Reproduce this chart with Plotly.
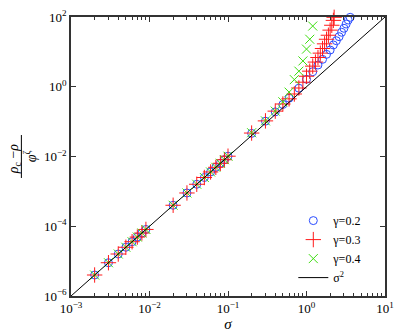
import plotly.graph_objects as go

# sigma values and scaled distance (rho_c - rho)/phi^zeta
sigma_g02 = [0.002, 0.003, 0.004, 0.005, 0.006, 0.007, 0.008, 0.009,
             0.02, 0.03, 0.04, 0.05, 0.06, 0.07, 0.08, 0.09, 0.1,
             0.2, 0.3, 0.4, 0.5, 0.6, 0.8, 1.0, 1.2, 1.4, 1.6, 1.8, 2.0,
             2.2, 2.4, 2.6, 2.8, 3.0, 3.2, 3.4, 3.6]
val_g02 = [4.0e-6, 9.0e-6, 1.6e-5, 2.5e-5, 3.6e-5, 4.9e-5, 6.4e-5, 8.1e-5,
           4.0e-4, 9.0e-4, 1.6e-3, 2.5e-3, 3.6e-3, 4.9e-3, 6.4e-3, 8.1e-3, 0.0102,
           0.046, 0.103, 0.19, 0.31, 0.47, 0.91, 1.64, 2.7, 4.2, 6.1, 8.5, 11.3,
           15.8, 20.9, 27.3, 36.5, 47.5, 63.0, 82.0, 98.0]

sigma_g03 = [0.002, 0.003, 0.004, 0.005, 0.006, 0.007, 0.008, 0.009,
             0.02, 0.03, 0.04, 0.05, 0.06, 0.07, 0.08, 0.09, 0.1,
             0.2, 0.3, 0.4, 0.5, 0.6, 0.7, 0.8, 0.9, 1.0, 1.1, 1.2, 1.3,
             1.4, 1.5, 1.6, 1.7, 1.8, 1.9, 2.0, 2.1, 2.2, 2.25]
val_g03 = [4.0e-6, 9.0e-6, 1.6e-5, 2.5e-5, 3.6e-5, 4.9e-5, 6.4e-5, 8.1e-5,
           4.0e-4, 9.0e-4, 1.6e-3, 2.5e-3, 3.6e-3, 4.9e-3, 6.4e-3, 8.1e-3, 0.0102,
           0.047, 0.105, 0.20, 0.32, 0.45, 0.62, 0.92, 1.35, 2.0, 2.8, 3.9, 5.1,
           6.9, 9.2, 12.5, 17.0, 23.0, 30.0, 42.0, 58.0, 80.0, 98.0]

sigma_g04 = [0.002, 0.003, 0.004, 0.005, 0.006, 0.007, 0.008, 0.009,
             0.02, 0.03, 0.04, 0.05, 0.06, 0.07, 0.08, 0.09, 0.1,
             0.2, 0.3, 0.4, 0.5, 0.6, 0.7, 0.8, 0.9, 1.0, 1.1, 1.2]
val_g04 = [4.0e-6, 9.0e-6, 1.6e-5, 2.5e-5, 3.6e-5, 4.9e-5, 6.4e-5, 8.1e-5,
           4.0e-4, 9.0e-4, 1.6e-3, 2.5e-3, 3.6e-3, 4.9e-3, 6.4e-3, 8.1e-3, 0.0102,
           0.048, 0.105, 0.20, 0.37, 0.70, 1.6, 2.8, 5.5, 12.0, 23.0, 55.0]

# reference sigma^2 line
sigma_ref = [1e-3, 10.0]
val_ref = [1e-6, 1e2]

# tick labels
x_exponents = [-3, -2, -1, 0, 1]
y_exponents = [-6, -4, -2, 0, 2]

FONT = "Liberation Serif"
AXIS_COL = "#333"


def power_labels(exps):
    return [f"10<sup>{'−' if e < 0 else ''}{abs(e)}</sup>" for e in exps]


# minor ticks at 2..9 in each x decade
x_minor = [m * 10.0 ** e for e in x_exponents[:-1] for m in range(2, 10)]

fig = go.Figure()

fig.add_trace(go.Scatter(
    x=sigma_g02, y=val_g02, mode="markers", name="γ=0.2",
    marker=dict(symbol="circle-open", size=8, color="#2a4cff",
                line=dict(width=1)),
    cliponaxis=False,
))
fig.add_trace(go.Scatter(
    x=sigma_g03, y=val_g03, mode="markers", name="γ=0.3",
    marker=dict(symbol="cross-thin-open", size=11, color="#ff1a1a",
                line=dict(width=1, color="#ff1a1a")),
    cliponaxis=False,
))
fig.add_trace(go.Scatter(
    x=sigma_g04, y=val_g04, mode="markers", name="γ=0.4",
    marker=dict(symbol="x-thin-open", size=9, color="#3ddd10",
                line=dict(width=1, color="#3ddd10")),
    cliponaxis=False,
))
fig.add_trace(go.Scatter(
    x=sigma_ref, y=val_ref, mode="lines", name="σ<sup>2</sup>",
    line=dict(color="black", width=1),
))

# y-axis title drawn as a stacked fraction (rho_c - rho) / phi^zeta
fig.add_annotation(xref="paper", yref="paper", x=-0.18, y=0.492,
                   xanchor="center", yanchor="middle",
                   text="<i>ρ</i><sub>c</sub> −<i>ρ</i>", textangle=-90,
                   showarrow=False, font=dict(family=FONT, size=14, color="black"))
fig.add_shape(type="line", xref="paper", yref="paper",
              x0=-0.158, x1=-0.158, y0=0.423, y1=0.577,
              line=dict(color="black", width=1))
fig.add_annotation(xref="paper", yref="paper", x=-0.131, y=0.50,
                   xanchor="center", yanchor="middle",
                   text="<i>φ</i><sup>ζ</sup>", textangle=-90,
                   showarrow=False, font=dict(family=FONT, size=14, color="black"))

axis_common = dict(
    type="log", showgrid=False, zeroline=False, automargin=False,
    showline=True, linecolor=AXIS_COL, linewidth=1.5, mirror="ticks",
    ticks="inside", ticklen=5, tickcolor=AXIS_COL, tickwidth=1,
    tickfont=dict(family=FONT, size=13, color="black"),
)

fig.update_xaxes(
    **axis_common,
    range=[-3, 1],
    tickmode="array",
    tickvals=[10.0 ** e for e in x_exponents],
    ticktext=power_labels(x_exponents),
    minor=dict(tickmode="array", tickvals=x_minor, ticks="inside",
               ticklen=3, tickcolor=AXIS_COL, showgrid=False),
    title=dict(text="<i>σ</i>", font=dict(family=FONT, size=15, color="black"),
               standoff=0),
)
fig.update_yaxes(
    **axis_common,
    range=[-6, 2],
    tickmode="array",
    tickvals=[10.0 ** e for e in y_exponents],
    ticktext=power_labels(y_exponents),
)

fig.update_layout(
    width=399, height=334,
    margin=dict(l=71, r=14, t=17, b=38),
    plot_bgcolor="white", paper_bgcolor="white",
    font=dict(family=FONT, size=13, color="black"),
    legend=dict(x=0.708, xanchor="left", y=0.014, yanchor="bottom",
                bgcolor="rgba(0,0,0,0)", borderwidth=0,
                font=dict(family=FONT, size=12, color="black"),
                tracegroupgap=0, itemwidth=30),
    showlegend=True,
)

# drop the default 8px page margin so the figure fills the window exactly
fig.write_html("out.html", config={"displayModeBar": False},
               post_script="document.body.style.margin='0';")
